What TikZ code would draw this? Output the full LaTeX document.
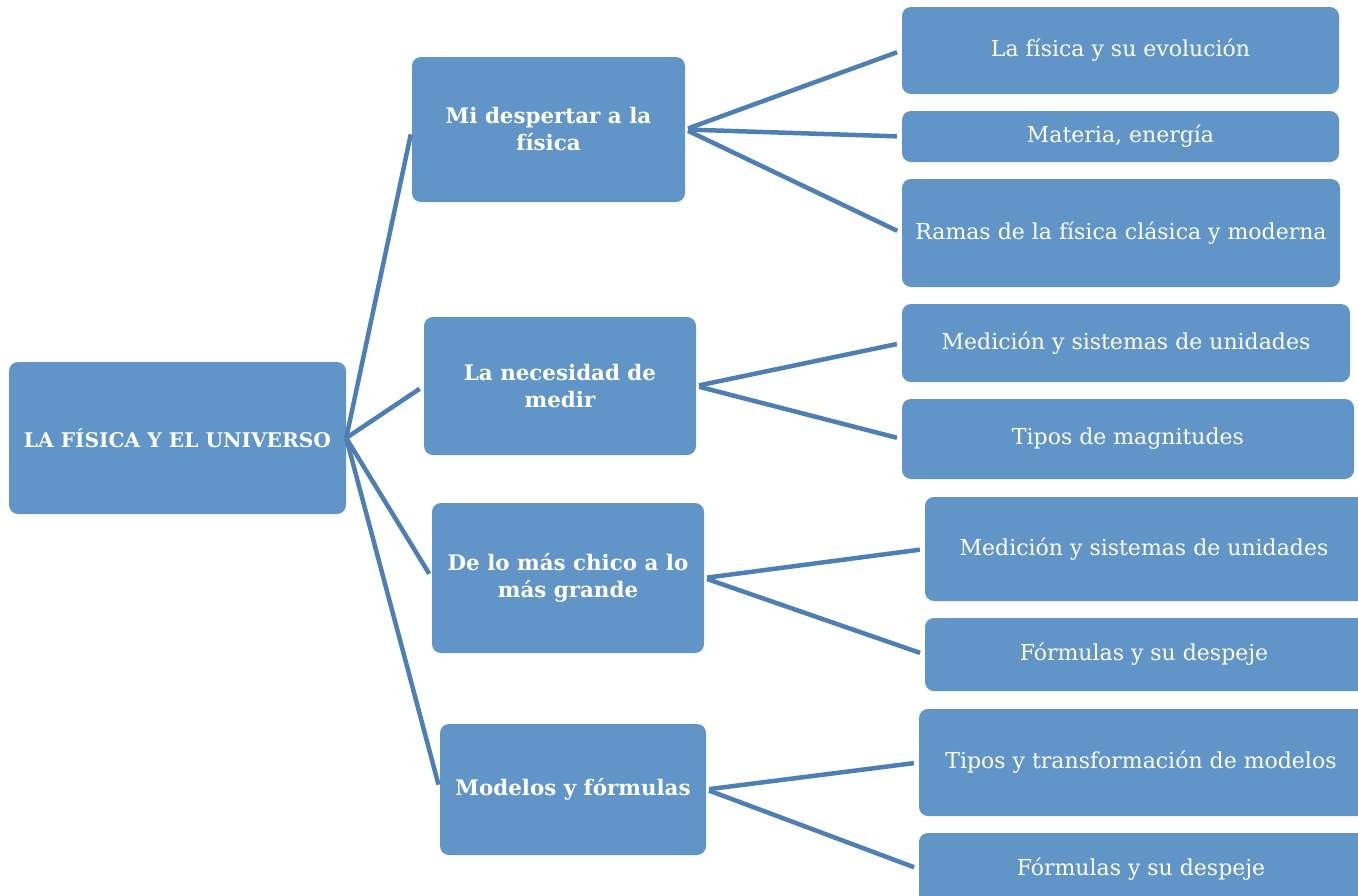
\documentclass[tikz,border=0pt]{standalone}
\usepackage{fontspec}
\setmainfont{DejaVu Serif}
\definecolor{boxblue}{RGB}{97,149,200}
\definecolor{lineblue}{RGB}{78,127,180}
\begin{document}
\begin{tikzpicture}[x=1pt, y=-1pt,
    box/.style={fill=boxblue, text=white, rounded corners=9pt, align=center, inner sep=0pt,
      font=\fontsize{22}{26}\selectfont},
    topic/.style={box, font=\fontsize{21.4}{27}\selectfont\bfseries},
    link/.style={lineblue, line width=4.5pt, shorten >=5pt}]
\useasboundingbox (0,0) rectangle (1358,895);
% main idea
\node (fis) at (177.5,438) [topic, minimum width=337, minimum height=152, font=\fontsize{20.2}{24}\selectfont\bfseries]{LA FÍSICA Y EL UNIVERSO};
% topics
\node (desp) at (548.5,129.5) [topic, minimum width=273, minimum height=145]{Mi despertar a la\\física};
\node (medir) at (560,386) [topic, minimum width=272, minimum height=138]{La necesidad de\\medir};
\node (chico) at (568,578) [topic, minimum width=272, minimum height=150]{De lo más chico a lo\\más grande};
\node (model) at (573,789.5) [topic, minimum width=266, minimum height=131]{Modelos y fórmulas};
% subtopics
\node (evol) at (1120.5,50.5) [box, minimum width=437, minimum height=87]{La física y su evolución};
\node (mat) at (1120.5,136.5) [box, minimum width=437, minimum height=51]{Materia, energía};
\node (ramas) at (1121,233) [box, minimum width=438, minimum height=108]{Ramas de la física clásica y moderna};
\node (unid) at (1126,343) [box, minimum width=448, minimum height=78]{Medición y sistemas de unidades};
\node (magn) at (1128,439) [box, minimum width=452, minimum height=80]{Tipos de magnitudes};
\node (unid2) at (1150,549) [box, minimum width=450, minimum height=104]{\hspace*{-12pt}Medición y sistemas de unidades};
\node (form) at (1150,654.5) [box, minimum width=450, minimum height=73]{\hspace*{-12pt}Fórmulas y su despeje};
\node (tipos) at (1147,762.5) [box, minimum width=456, minimum height=107]{\hspace*{-12pt}Tipos y transformación de modelos};
\node (form2) at (1147,869) [box, minimum width=456, minimum height=72]{\hspace*{-12pt}Fórmulas y su despeje};
% connectors
\foreach \t in {desp,medir,chico,model}
  \draw[link] (fis.east) -- (\t.west);
\foreach \s/\t in {desp/evol,desp/mat,desp/ramas,medir/unid,medir/magn,chico/unid2,chico/form,model/tipos,model/form2}
  \draw[link, shorten <=3pt] (\s.east) -- (\t.west);
\end{tikzpicture}
\end{document}
